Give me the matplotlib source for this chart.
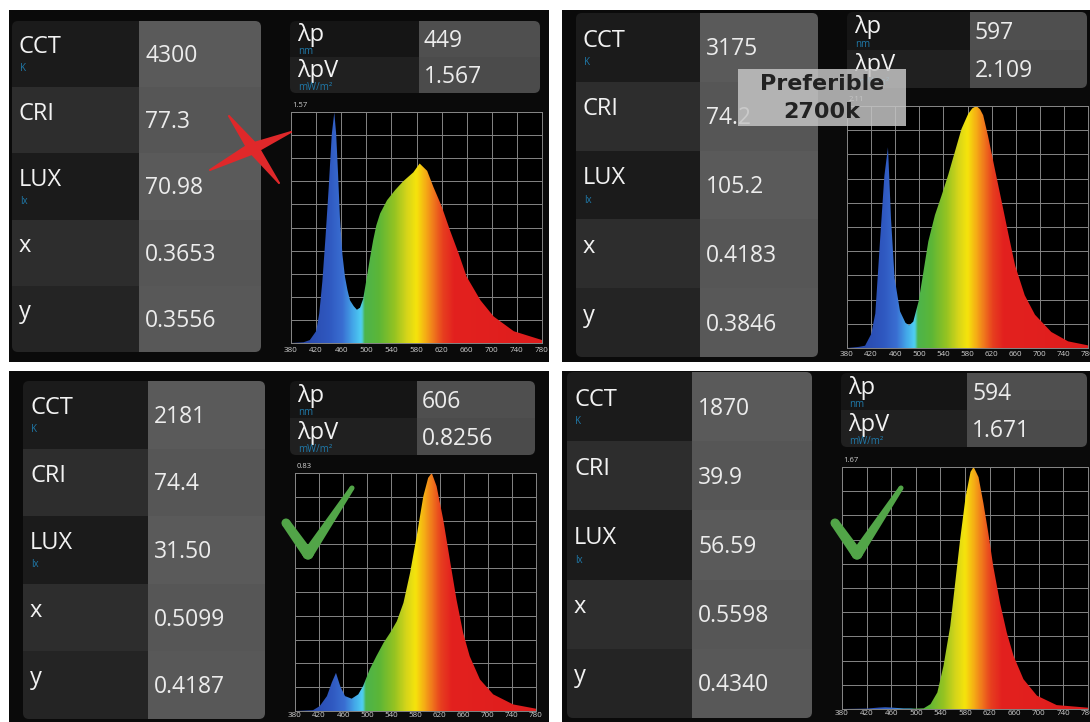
"""Four spectrometer readouts (CCT 4300 K -> 1870 K) laid out as a 2x2 collage.

Each tile mimics the meter app: a readings table, a small peak table and the
spectral power distribution filled with its wavelength colours.
"""

import matplotlib

matplotlib.use("Agg")  # no display needed
import matplotlib.pyplot as plt
import numpy as np
from matplotlib.colors import LinearSegmentedColormap
from matplotlib.patches import Circle, FancyBboxPatch, Polygon, Rectangle
from matplotlib.transforms import Affine2D

# ---- readings, one entry per tile (TL, TR, BL, BR) ----
CCT = ["4300", "3175", "2181", "1870"]
CRI = ["77.3", "74.2", "74.4", "39.9"]
LUX = ["70.98", "105.2", "31.50", "56.59"]
CIE_X = ["0.3653", "0.4183", "0.5099", "0.5598"]
CIE_Y = ["0.3556", "0.3846", "0.4187", "0.4340"]
PEAK_NM = ["449", "597", "606", "594"]
PEAK_POWER = ["1.567", "2.109", "0.8256", "1.671"]
Y_MAX = [1.57, 2.11, 0.83, 1.67]
Y_MAX_LABEL = ["1.57", "2.11", "0.83", "1.67"]

ROW_LABELS = ["CCT", "CRI", "LUX", "x", "y"]
ROW_UNITS = ["K", "", "lx", "", ""]
PEAK_LABELS = ["λp", "λpV"]
PEAK_UNITS = ["nm", "mW/m²"]

# ---- spectra (nm, mW/m2) ----
WL_4300 = [380, 400, 410, 420, 425, 430, 435, 440, 445, 449, 452, 455, 458, 462,
           466, 470, 474, 480, 485, 490, 495, 501, 506, 511, 516, 522, 533, 546,
           559, 575, 585, 597, 607, 620, 633, 647, 660, 682, 703, 735, 780]
SPD_4300 = [0.0, 0.005, 0.02, 0.08, 0.2, 0.42, 0.72, 1.05, 1.42, 1.567, 1.42, 1.15,
            0.85, 0.6, 0.45, 0.36, 0.29, 0.25, 0.226, 0.24, 0.3, 0.45, 0.58, 0.70,
            0.80, 0.88, 0.97, 1.04, 1.10, 1.16, 1.22, 1.17, 1.06, 0.93, 0.77, 0.61,
            0.45, 0.29, 0.18, 0.08, 0.02]

WL_3175 = [380, 400, 410, 420, 427, 435, 442, 448, 453, 459, 468, 477, 483, 490,
           499, 507, 515, 526, 537, 548, 559, 570, 581, 588, 595, 601, 606, 614,
           625, 637, 648, 659, 675, 692, 719, 747, 780]
SPD_3175 = [0.0, 0.01, 0.02, 0.12, 0.30, 0.95, 1.50, 1.75, 1.13, 0.61, 0.32, 0.22,
            0.197, 0.23, 0.41, 0.67, 0.93, 1.16, 1.33, 1.51, 1.71, 1.91, 2.04, 2.09,
            2.11, 2.08, 2.03, 1.85, 1.57, 1.27, 0.99, 0.72, 0.46, 0.29, 0.14, 0.058,
            0.023]

WL_2181 = [380, 410, 421, 433, 441, 448, 455, 463, 474, 485, 493, 504, 515, 527,
           538, 549, 560, 571, 582, 593, 601, 607, 615, 626, 637, 648, 659, 670,
           687, 709, 742, 780]
SPD_2181 = [0.0, 0.003, 0.017, 0.052, 0.099, 0.133, 0.087, 0.052, 0.043, 0.058,
            0.087, 0.145, 0.191, 0.238, 0.273, 0.313, 0.377, 0.482, 0.610, 0.749,
            0.813, 0.830, 0.784, 0.668, 0.528, 0.389, 0.273, 0.191, 0.110, 0.058,
            0.023, 0.008]

WL_1870 = [380, 420, 440, 450, 460, 480, 500, 513, 524, 535, 545, 556, 564, 572,
           581, 589, 594, 602, 610, 618, 626, 637, 648, 659, 675, 697, 729, 780]
SPD_1870 = [0.0, 0.003, 0.01, 0.012, 0.01, 0.004, 0.003, 0.005, 0.034, 0.114,
            0.297, 0.572, 0.869, 1.167, 1.464, 1.636, 1.671, 1.60, 1.419, 1.212,
            0.984, 0.732, 0.526, 0.366, 0.206, 0.092, 0.027, 0.009]

SPECTRA = [(WL_4300, SPD_4300), (WL_3175, SPD_3175),
           (WL_2181, SPD_2181), (WL_1870, SPD_1870)]
XTICKS = [380, 420, 460, 500, 540, 580, 620, 660, 700, 740, 780]

# ---- look ----
W, H = 1090, 722
FONT = ["Open Sans", "DejaVu Sans"]
PANEL_BG = "#0a0a0a"
LABEL_FILLS = ["#1b1b1b", "#2d2d2d", "#1b1b1b", "#2d2d2d", "#242424"]
VALUE_FILLS = ["#5a5a5a", "#565656", "#5a5a5a", "#565656", "#585858"]
PEAK_LABEL_FILLS = ["#151515", "#202020"]
PEAK_VALUE_FILLS = ["#4f4f4f", "#4b4b4b"]
TEXT = "#f2f2f2"
UNIT = "#1f78a8"
GRID = "#858585"
TICK_TEXT = "#cfcfcf"
RED_X = "#e0282a"
GREEN_CHECK = "#52a548"

SPECTRUM_CMAP = LinearSegmentedColormap.from_list(
    "spectrum",
    [
        ((380 - 380) / 400, "#25409e"),
        ((440 - 380) / 400, "#2f58c0"),
        ((462 - 380) / 400, "#3a6fd2"),
        ((478 - 380) / 400, "#43a6e8"),
        ((492 - 380) / 400, "#4fd0f4"),
        ((497 - 380) / 400, "#4cb44c"),
        ((520 - 380) / 400, "#5cb637"),
        ((545 - 380) / 400, "#95c322"),
        ((565 - 380) / 400, "#d6d51a"),
        ((580 - 380) / 400, "#f5e40c"),
        ((593 - 380) / 400, "#f6b414"),
        ((607 - 380) / 400, "#f07a1c"),
        ((622 - 380) / 400, "#e7401f"),
        ((640 - 380) / 400, "#e3211f"),
        (1.0, "#de1d1d"),
    ],
)

# tile geometry in image pixels (x0, y0, x1, y1), origin top-left
TILES = [
    dict(bg=(9, 10, 549, 362), table=(12, 21, 261, 352), split=139,
         peak=(290, 21, 540, 93), peak_split=419, plot=(291, 112, 542, 343), pad=3),
    dict(bg=(562, 10, 1090, 362), table=(576, 13, 818, 357), split=700,
         peak=(847, 12, 1087, 88), peak_split=970, plot=(847, 106, 1088, 348), pad=2.5),
    dict(bg=(9, 371, 549, 722), table=(23, 381, 265, 719), split=148,
         peak=(290, 381, 535, 455), peak_split=417, plot=(295, 473, 536, 711), pad=1),
    dict(bg=(562, 371, 1090, 722), table=(567, 372, 812, 718), split=692,
         peak=(841, 373, 1087, 447), peak_split=967, plot=(842, 467, 1088, 709), pad=1),
]

fig = plt.figure(figsize=(W / 100, H / 100), dpi=100, facecolor="white")
PX = Affine2D().scale(1 / W, -1 / H).translate(0, 1) + fig.transFigure


def box(x0, y0, x1, y1, color, r=0, z=0, alpha=1.0, clip=None):
    if r:
        p = FancyBboxPatch((x0, y0), x1 - x0, y1 - y0,
                           boxstyle=f"round,pad=0,rounding_size={r}",
                           transform=PX, fc=color, ec="none", zorder=z, alpha=alpha)
    else:
        p = Rectangle((x0, y0), x1 - x0, y1 - y0, transform=PX, fc=color,
                      ec="none", zorder=z, alpha=alpha)
    fig.add_artist(p)
    if clip is not None:
        p.set_clip_path(clip)
    return p


def label(x, y, s, size, color=TEXT, **kw):
    kw.setdefault("va", "center")
    fig.text(x, y, s, transform=PX, fontsize=size, color=color, family=FONT, **kw)


def table(rect, split, fills_l, fills_v, labels, units, values,
          lab_f, unit_f, val_f, val_dx):
    x0, y0, x1, y1 = rect
    outline = FancyBboxPatch((x0, y0), x1 - x0, y1 - y0,
                             boxstyle="round,pad=0,rounding_size=6", transform=PX)
    n = len(labels)
    h = (y1 - y0) / n
    for i in range(n):
        top = y0 + i * h
        box(x0, top, split, top + h, fills_l[i], clip=outline)
        box(split, top, x1, top + h, fills_v[i], clip=outline)
        label(x0 + 7, top + lab_f * h, labels[i], 17)
        if units[i]:
            label(x0 + 8, top + unit_f * h, units[i], 7, color=UNIT)
        label(split + val_dx, top + val_f * h, values[i], 16.5, color="#ececec")


def stroke(p, q, w0, w1, color, z=8):
    # tapered brush stroke from p to q, round ends
    p, q = np.asarray(p, float), np.asarray(q, float)
    d = (q - p) / np.hypot(*(q - p))
    nrm = np.array([-d[1], d[0]])
    pts = [p + nrm * w0 / 2, q + nrm * w1 / 2, q - nrm * w1 / 2, p - nrm * w0 / 2]
    fig.add_artist(Polygon(pts, closed=True, transform=PX, fc=color, ec="none", zorder=z))
    for c, w in ((p, w0), (q, w1)):
        fig.add_artist(Circle(c, w / 2, transform=PX, fc=color, ec="none", zorder=z))


def spectrum(tile, wl, spd, ymax, ylab):
    x0, y0, x1, y1 = tile["plot"]
    ax = fig.add_axes([x0 / W, 1 - y1 / H, (x1 - x0) / W, (y1 - y0) / H], zorder=1)
    ax.set_facecolor("black")
    img = ax.imshow(np.linspace(380, 780, 801)[None, :], extent=(380, 780, 0, ymax),
                    aspect="auto", cmap=SPECTRUM_CMAP, vmin=380, vmax=780,
                    interpolation="bilinear", zorder=2)
    outline = Polygon([(wl[0], 0)] + list(zip(wl, spd)) + [(wl[-1], 0)], closed=True,
                      fc="none", ec="none")
    ax.add_patch(outline)
    img.set_clip_path(outline)
    ax.set_xlim(380, 780)
    ax.set_ylim(0, ymax)
    ax.set_xticks(XTICKS)
    ax.set_yticks(np.linspace(0, ymax, 11))
    ax.set_yticklabels([])
    ax.grid(True, color=GRID, lw=0.7)
    ax.set_axisbelow(True)
    ax.tick_params(length=0, labelsize=5.8, labelcolor=TICK_TEXT, pad=tile["pad"])
    for t in ax.get_xticklabels():
        t.set_family(FONT)
    for s in ax.spines.values():
        s.set_color(GRID)
        s.set_linewidth(0.7)
    ax.annotate(ylab, (0, 1), xycoords="axes fraction", xytext=(1, 2),
                textcoords="offset points", fontsize=5.5, color=TICK_TEXT,
                family=FONT, va="bottom")


for i, tile in enumerate(TILES):
    box(*tile["bg"], PANEL_BG, z=-2)
    table(tile["table"], tile["split"], LABEL_FILLS, VALUE_FILLS, ROW_LABELS, ROW_UNITS,
          [CCT[i], CRI[i], LUX[i], CIE_X[i], CIE_Y[i]], 0.40, 0.72, 0.53, 6)
    table(tile["peak"], tile["peak_split"], PEAK_LABEL_FILLS, PEAK_VALUE_FILLS,
          PEAK_LABELS, PEAK_UNITS, [PEAK_NM[i], PEAK_POWER[i]], 0.40, 0.86, 0.56, 5)
    wl, spd = SPECTRA[i]
    spectrum(tile, wl, spd, Y_MAX[i], Y_MAX_LABEL[i])

# red cross on the 4300 K reading
stroke((229, 116), (253, 148), 2, 12, RED_X)
stroke((253, 148), (279, 183), 12, 2, RED_X)
stroke((210, 170), (251, 149), 2, 12, RED_X)
stroke((251, 149), (291, 132), 12, 2, RED_X)

# green ticks on the warm readings
for ox in (0, 549):
    stroke((286 + ox, 523), (308 + ox, 554), 9, 11, GREEN_CHECK)
    stroke((308 + ox, 554), (352 + ox, 488), 11, 5, GREEN_CHECK)

# note over the 3175 K tile
box(738, 69, 906, 126, "#c4c4c4", z=6, alpha=0.85)
for y, s in ((84, "Preferible"), (112, "2700k")):
    fig.text(822, y, s, transform=PX, fontsize=16, fontweight="bold", color="#222222",
             family="DejaVu Sans", ha="center", va="center", zorder=7)

# white gutters between the screenshots
box(549, 0, 562, H, "white", z=20)
box(0, 362, W, 371, "white", z=20)

fig.savefig("out.png", dpi=100, facecolor="white")
